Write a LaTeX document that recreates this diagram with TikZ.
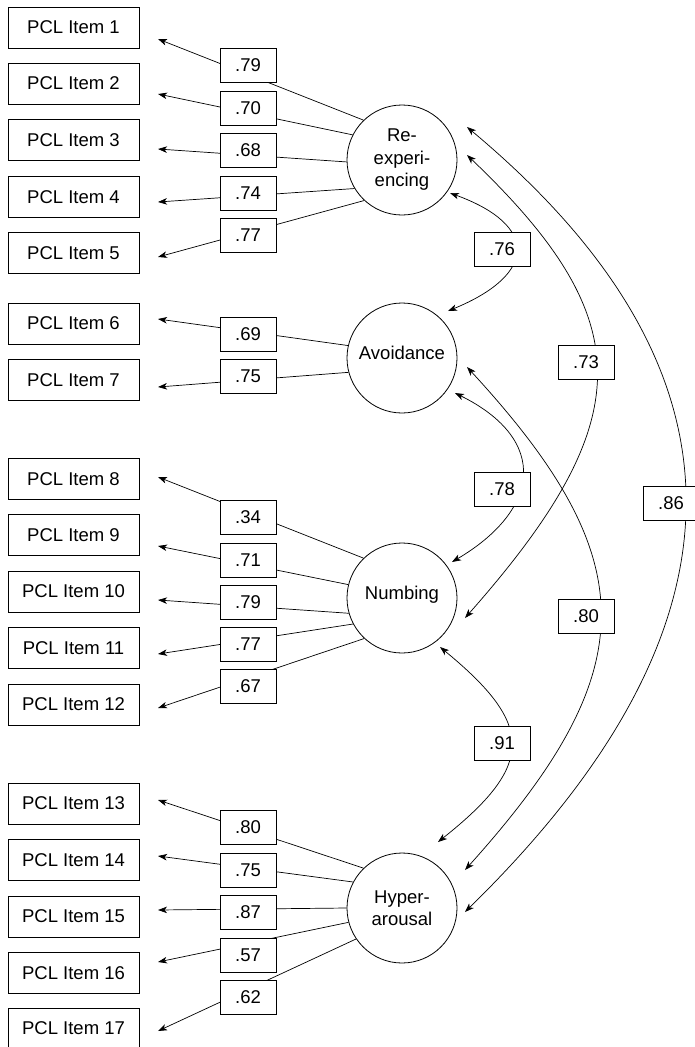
\documentclass[tikz,border=0pt]{standalone}
\usepackage{fontspec}
\setmainfont{Liberation Sans}
\usetikzlibrary{arrows.meta}
\begin{document}
\begin{tikzpicture}[x=1pt,y=-1pt,
  every node/.style={font=\fontsize{18.5}{22.5}\selectfont},
  item/.style={draw,line width=0.9pt,minimum width=131pt,minimum height=41pt,inner sep=0pt},
  load/.style={draw,fill=white,line width=0.9pt,minimum width=56pt,minimum height=34pt,inner sep=0pt},
  latent/.style={draw,circle,line width=0.8pt,minimum size=110pt,inner sep=0pt,align=center},
  ln/.style={line width=0.7pt,-{Stealth[length=9pt,width=6.5pt,inset=2.5pt]}},
  cov/.style={line width=0.7pt,{Stealth[length=9pt,width=6.5pt,inset=2.5pt]}-{Stealth[length=9pt,width=6.5pt,inset=2.5pt]}}]
\useasboundingbox (0,0) rectangle (695,1047);

% latent factors
\node[latent] (re) at (402,160) {Re-\\experi-\\encing};
\node[latent] (av) at (402,358) {\raisebox{11pt}{Avoidance}};
\node[latent] (nu) at (402,598) {\raisebox{11pt}{Numbing}};
\node[latent] (hy) at (402,908) {Hyper-\\arousal};

% items
\foreach \i/\y in {1/27.5,2/83.5,3/140,4/197,5/253,6/323.5,7/380,8/479,9/535,10/591.5,11/648,12/704.5,13/803.5,14/860,15/916.5,16/973,17/1028.5}
  \node[item] (i\i) at (73.5,\y) {PCL Item \i};

% arrow tip coordinates
\foreach \i/\y in {1/39,2/94,3/149,4/202,5/257,6/319,7/387,8/477,9/546,10/600,11/654,12/708,13/800,14/856,15/910,16/962,17/1031}
  \coordinate (t\i) at (158,\y);

% loadings
\foreach \f/\a/\i in {re/134/1,re/153/2,re/182/3,re/211/4,re/227/5,
                       av/167.5/6,av/195.5/7,
                       nu/134/8,nu/166.5/9,nu/196.5/10,nu/208/11,nu/227/12,
                       hy/134/13,hy/152.5/14,hy/180/15,hy/195.5/16,hy/214/17}
  \draw[ln] (\f.\a) -- (t\i);

\foreach \i/\y/\v in {1/65.5/.79,2/108/.70,3/150/.68,4/193/.74,5/235/.77,
                      6/334/.69,7/376/.75,
                      8/517/.34,9/560/.71,10/602/.79,11/644/.77,12/686/.67,
                      13/827/.80,14/870/.75,15/912/.87,16/955/.57,17/997/.62}
  \node[load] (l\i) at (248,\y) {\v};

% covariance end points
\coordinate (re86) at (467,127);
\coordinate (re73) at (467,155);
\coordinate (re76) at (450,193);
\coordinate (av76) at (448,311);
\coordinate (av80) at (467,367);
\coordinate (av78) at (455,393);
\coordinate (nu78) at (452,562);
\coordinate (nu73) at (465,618);
\coordinate (nu91) at (440,647);
\coordinate (hy91) at (438,842);
\coordinate (hy80) at (465,870);
\coordinate (hy86) at (465,912);

\draw[cov] (re76) .. controls (538,225) and (538,274) .. (av76);
\draw[cov] (re73) .. controls (640,320) and (640,420) .. (nu73);
\draw[cov] (re86) .. controls (758,370) and (758,625) .. (hy86);
\draw[cov] (av80) .. controls (645,560) and (645,670) .. (hy80);
\draw[cov] (av78) .. controls (550,440) and (540,510) .. (nu78);
\draw[cov] (nu91) .. controls (535,725) and (535,765) .. (hy91);

\node[load] (c76) at (502,249) {.76};
\node[load] (c73) at (586,362) {.73};
\node[load] (c86) at (671,503) {.86};
\node[load] (c80) at (586,616) {.80};
\node[load] (c78) at (502,489) {.78};
\node[load] (c91) at (502,743) {.91};
\end{tikzpicture}
\end{document}
